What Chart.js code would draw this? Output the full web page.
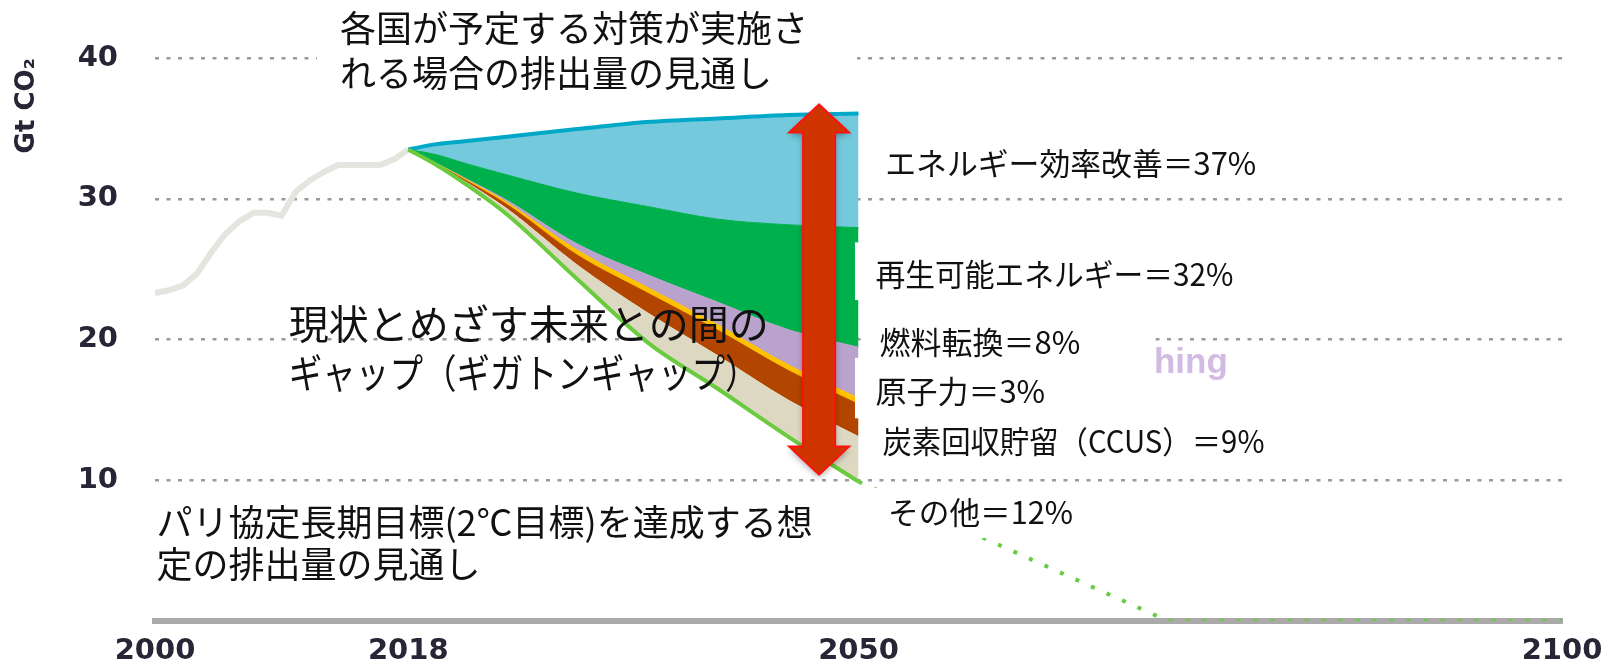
<!DOCTYPE html>
<html lang="ja">
<head>
<meta charset="utf-8">
<title>ギガトンギャップ</title>
<script src="https://cdn.jsdelivr.net/npm/chart.js@4.4.1/dist/chart.umd.min.js"></script>
<style>
  html, body { margin: 0; padding: 0; background: #fff; }
  canvas { display: block; }
</style>
</head>
<body>
<canvas id="gap" width="1617" height="665"></canvas>
<script>
// 実績（2000〜2018年）
const histYears = [2000, 2001, 2002, 2003, 2004, 2005, 2006, 2007, 2008, 2009,
                   2010, 2011, 2012, 2013, 2014, 2015, 2016, 2017, 2018];
const histValues = [23.3, 23.5, 23.85, 24.7, 26.2, 27.5, 28.4, 29.0, 29.0, 28.8,
                    30.5, 31.3, 31.9, 32.4, 32.4, 32.4, 32.4, 32.8, 33.5];

// 2018〜2050年：2℃目標の排出経路と、対策ごとの削減量（Gt）
const gapYears = [2018, 2020, 2022, 2025, 2030, 2035, 2040, 2045, 2050];
const sdsPath       = [33.5, 32.4, 31.1, 28.9, 24.3, 19.8, 16.5, 13.1, 9.9];
const otherCut      = [0, 0.05, 0.15, 0.4, 1.0, 2.1, 2.35, 2.6, 3.2];
const ccusCut       = [0, 0.03, 0.1, 0.3, 0.7, 1.4, 1.8, 2.1, 2.3];
const nuclearCut    = [0, 0.03, 0.08, 0.15, 0.35, 0.4, 0.4, 0.4, 0.45];
const fuelCut       = [0, 0.02, 0.05, 0.15, 0.45, 0.9, 1.6, 2.5, 3.6];
const renewCut      = [0, 0.6, 1.05, 1.8, 3.6, 4.85, 5.9, 7.45, 8.5];
const efficiencyCut = [0, 0.75, 1.55, 2.7, 4.55, 6.0, 7.15, 7.8, 8.1];

// 2050年以降の2℃目標経路（点線）
const longYears = [2050, 2072, 2100];
const longValues = [9.9, 0, 0];

const yearTicks = [2000, 2018, 2050, 2100];

const measureNames = ['エネルギー効率改善', '再生可能エネルギー', '燃料転換', '原子力', '炭素回収貯留（CCUS）', 'その他'];
const measureShares = [37, 32, 8, 3, 9, 12];

const titleLines = ['各国が予定する対策が実施さ', 'れる場合の排出量の見通し'];
const gapLines = ['現状とめざす未来との間の', 'ギャップ（ギガトンギャップ）'];
const parisLines = ['パリ協定長期目標(2℃目標)を達成する想', '定の排出量の見通し'];

// 注記の配置（年, Gt）
const JP = '"Noto Sans CJK JP", sans-serif';
const place = {
  title: { year: 2013.15, gt: [42.1, 38.9], size: 36, maxW: [470, 436] },
  gap:   { year: 2009.5,  gt: [21.1, 17.6], size: 40, maxW: [480, 470] },
  paris: { year: 2000.1,  gt: [7.0, 4.0],   size: 36, maxW: [665, 330] },
  measures: {
    year: [2051.9, 2051.2, 2051.5, 2051.2, 2051.7, 2052.1],
    gt: [32.5, 24.66, 19.83, 16.3, 12.76, 7.71],
    maxW: [371, 358, 205, 178, 382, 185],
    size: 31
  },
  // 白抜き [年0, 年1, 上Gt, 下Gt]
  boxes: [
    [2011.5, 2049.9, 44.5, 37.0],
    [2049.75, 2077.1, 26.9, 22.8],
    [2050.25, 2071.1, 21.5, 18.7],
    [2049.75, 2068.1, 18.7, 14.4],
    [2050.25, 2079.3, 14.3, 11.3],
    [2049.8, 2065.8, 9.45, 5.9]
  ],
  arrow: { year: 2047.2, top: 36.7, bottom: 10.4 },
  leftover: { year: 2071.0, gt: 17.6 }
};

const pts = (xs, vs) => xs.map((x, i) => ({ x: x, y: vs[i] }));

function layer(label, vals, color) {
  return {
    label: label,
    data: pts(gapYears, vals),
    stack: 'gap',
    fill: '-1',
    backgroundColor: color,
    borderColor: color,
    borderWidth: 1,
    pointRadius: 0,
    cubicInterpolationMode: 'monotone'
  };
}

function drawArrow(ctx, x, yTop, yBot) {
  const shaft = 16, head = 30, hl = 28;
  ctx.save();
  ctx.beginPath();
  ctx.moveTo(x, yTop);
  ctx.lineTo(x + head, yTop + hl);
  ctx.lineTo(x + shaft, yTop + hl);
  ctx.lineTo(x + shaft, yBot - hl);
  ctx.lineTo(x + head, yBot - hl);
  ctx.lineTo(x, yBot);
  ctx.lineTo(x - head, yBot - hl);
  ctx.lineTo(x - shaft, yBot - hl);
  ctx.lineTo(x - shaft, yTop + hl);
  ctx.lineTo(x - head, yTop + hl);
  ctx.closePath();
  ctx.shadowColor = 'rgba(0,0,0,0.35)';
  ctx.shadowBlur = 6;
  ctx.shadowOffsetY = 3;
  ctx.fillStyle = '#d03400';
  ctx.fill();
  ctx.shadowColor = 'transparent';
  ctx.strokeStyle = '#ff1010';
  ctx.lineWidth = 2;
  ctx.stroke();
  ctx.restore();
}

const notes = {
  id: 'notes',
  afterDatasetsDraw(chart) {
    const ctx = chart.ctx;
    const sx = chart.scales.x, sy = chart.scales.y;
    ctx.save();

    ctx.fillStyle = '#fff';
    place.boxes.forEach(b => {
      const x0 = sx.getPixelForValue(b[0]), x1 = sx.getPixelForValue(b[1]);
      const y0 = sy.getPixelForValue(b[2]), y1 = sy.getPixelForValue(b[3]);
      ctx.fillRect(x0, y0, x1 - x0, y1 - y0);
    });

    const a = place.arrow;
    drawArrow(ctx, sx.getPixelForValue(a.year), sy.getPixelForValue(a.top), sy.getPixelForValue(a.bottom));

    ctx.textAlign = 'left';

    // 元の英語ラベルの残り
    ctx.textBaseline = 'alphabetic';
    ctx.fillStyle = 'rgba(185,150,210,0.65)';
    ctx.font = 'bold 35px "Liberation Sans", sans-serif';
    ctx.fillText('hing', sx.getPixelForValue(place.leftover.year), sy.getPixelForValue(place.leftover.gt));

    ctx.textBaseline = 'middle';
    ctx.fillStyle = '#111';
    const block = (lines, p) => {
      ctx.font = p.size + 'px ' + JP;
      lines.forEach((t, i) => {
        ctx.fillText(t, sx.getPixelForValue(p.year), sy.getPixelForValue(p.gt[i]), p.maxW[i]);
      });
    };
    block(titleLines, place.title);
    block(gapLines, place.gap);
    block(parisLines, place.paris);

    const m = place.measures;
    ctx.font = m.size + 'px ' + JP;
    measureNames.forEach((name, i) => {
      const txt = name + '＝' + measureShares[i] + '%';
      ctx.fillText(txt, sx.getPixelForValue(m.year[i]), sy.getPixelForValue(m.gt[i]), m.maxW[i]);
    });

    ctx.restore();
  }
};

const axisFont = { family: '"DejaVu Sans", sans-serif', size: 29, weight: 'bold' };

new Chart(document.getElementById('gap'), {
  type: 'line',
  data: {
    datasets: [
      {
        label: '2℃目標',
        data: pts(gapYears, sdsPath),
        stack: 'gap',
        fill: false,
        borderColor: '#6acb3e',
        borderWidth: 4,
        pointRadius: 0,
        cubicInterpolationMode: 'monotone'
      },
      layer(measureNames[5], otherCut, '#ddd8c2'),
      layer(measureNames[4], ccusCut, '#b24600'),
      layer(measureNames[3], nuclearCut, '#ffc000'),
      layer(measureNames[2], fuelCut, '#b9a2cb'),
      layer(measureNames[1], renewCut, '#00b04c'),
      Object.assign(layer(measureNames[0], efficiencyCut, '#74cadc'), {
        borderColor: '#00a8c8',
        borderWidth: 4
      }),
      {
        label: '実績',
        data: pts(histYears, histValues),
        stack: 'hist',
        fill: false,
        borderColor: '#e2e6de',
        borderWidth: 6,
        pointRadius: 0,
        tension: 0
      },
      {
        label: '2050年以降',
        data: pts(longYears, longValues),
        stack: 'long',
        fill: false,
        borderColor: '#66cc44',
        borderWidth: 4,
        borderDash: [4, 13],
        pointRadius: 0,
        tension: 0
      }
    ]
  },
  options: {
    responsive: false,
    animation: false,
    events: [],
    devicePixelRatio: 1,
    layout: { autoPadding: false, padding: { top: 58, right: 55, left: 0, bottom: 0 } },
    plugins: {
      legend: { display: false },
      tooltip: { enabled: false }
    },
    scales: {
      x: {
        type: 'linear',
        min: 2000,
        max: 2100,
        afterBuildTicks: s => { s.ticks = yearTicks.map(v => ({ value: v })); },
        afterFit: s => { s.height = 44; },
        grid: { display: false, drawTicks: false },
        border: { display: true, color: '#aaaaaa', width: 6 },
        ticks: {
          padding: 13,
          maxRotation: 0,
          autoSkip: false,
          color: '#262636',
          font: axisFont,
          callback: v => String(v)
        }
      },
      y: {
        stacked: true,
        min: 0,
        max: 40,
        // 目盛ラベルの余白が下端の位置に影響しないようにする
        afterFit: s => { s.width = 155; s.paddingTop = 0; s.paddingBottom = 0; },
        grid: {
          drawTicks: false,
          lineWidth: 2.5,
          color: c => (c.tick && c.tick.value === 0) ? 'rgba(0,0,0,0)' : '#9a9a9a'
        },
        border: { display: false, dash: [4, 7.5] },
        ticks: {
          stepSize: 10,
          padding: 37,
          color: '#262636',
          font: axisFont,
          callback: v => v === 0 ? '' : String(v)
        },
        title: {
          display: true,
          text: 'Gt CO₂',
          align: 'end',
          color: '#262636',
          font: { family: '"DejaVu Sans", sans-serif', size: 26, weight: 'bold' },
          padding: { top: 12, bottom: 0 }
        }
      }
    }
  },
  plugins: [notes]
});
</script>
</body>
</html>
